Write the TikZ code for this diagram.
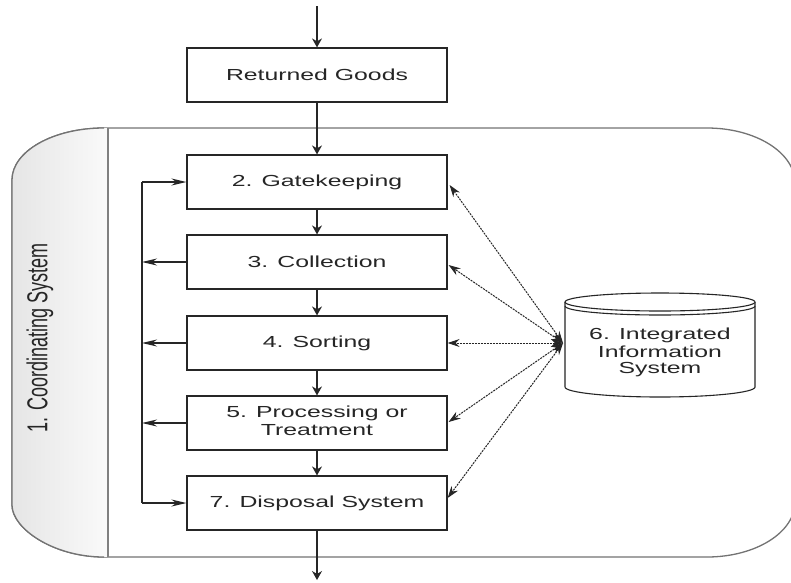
\documentclass[tikz,border=0pt]{standalone}
\usepackage{fontspec}
\setmainfont{Liberation Sans}
\usetikzlibrary{arrows.meta,calc}
\newcommand\wtxt[1]{\scalebox{1.55}[1]{#1}}
\newcommand\wtwo[2]{\scalebox{1.55}[1]{\begin{tabular}{@{}c@{}}#1\\#2\end{tabular}}}
\begin{document}
\begin{tikzpicture}[x=1pt,y=-1pt,
  box/.style={draw=black!85, line width=1.2pt, minimum width=260pt, minimum height=54pt,
    inner sep=0pt, text=black!85, font=\fontsize{16}{18}\selectfont},
  varr/.style={-{Stealth[length=9pt,width=10pt]}, line width=1.2pt, draw=black!85},
  harr/.style={-{Stealth[length=15pt,width=7pt]}, line width=1.2pt, draw=black!85},
  darr/.style={{Stealth[length=12pt,width=8pt]}-{Stealth[length=12pt,width=8pt]},
    dash pattern=on 2pt off 1pt, line width=1pt, draw=black!85},
  cont/.style={draw=black!55, line width=1.3pt}]
\path[use as bounding box, clip] (0,0) rectangle (791,582);
% container
\path[cont, fill=white] (104,128) -- (707,128)
  .. controls (755.6,128) and (795,152.6) .. (795,183)
  -- (795,502)
  .. controls (795,532.4) and (755.6,557) .. (707,557)
  -- (104,557)
  .. controls (53.2,557) and (12,528.3) .. (12,505)
  -- (12,180)
  .. controls (12,151.3) and (53.2,128) .. (104,128) -- cycle;
\fill[left color=black!10, right color=black!2] (108,128) -- (104,128)
  .. controls (53.2,128) and (12,151.3) .. (12,180) -- (12,505)
  .. controls (12,528.3) and (53.2,557) .. (104,557) -- (108,557) -- cycle;
\draw[cont] (104,128) .. controls (53.2,128) and (12,151.3) .. (12,180) -- (12,505)
  .. controls (12,528.3) and (53.2,557) .. (104,557);
\draw[draw=black!50, line width=1.6pt] (108,128) -- (108,557);
\node[rotate=90, text=black!85, font=\fontsize{18}{20}\selectfont] (coord) at (40,338)
  {\scalebox{1}[1.6]{1. Coordinating System}};
% boxes
\node[box] (ret)  at (317,75)  {\wtxt{Returned Goods}};
\node[box] (gate) at (317,182) {\wtxt{2. Gatekeeping}};
\node[box] (coll) at (317,262) {\wtxt{3. Collection}};
\node[box] (sort) at (317,343) {\wtxt{4. Sorting}};
\node[box] (proc) at (317,423) {\wtwo{5. Processing or}{Treatment}};
\node[box] (disp) at (317,503) {\wtxt{7. Disposal System}};
\coordinate (top) at (317,6);
\coordinate (bot) at (317,580);
% vertical flow
\draw[varr] (top) -- (ret);
\draw[varr] (ret) -- (gate);
\draw[varr] (gate) -- (coll);
\draw[varr] (coll) -- (sort);
\draw[varr] (sort) -- (proc);
\draw[varr] (proc) -- (disp);
\draw[varr] (disp) -- (bot);
% bus
\coordinate (busT) at (142,182);
\coordinate (busB) at (142,503);
\draw[line width=1.2pt, draw=black!85] (busT) -- (busB);
\draw[harr] (busT) -- (gate.west);
\draw[harr] (coll.west) -- (coll.west -| busT);
\draw[harr] (sort.west) -- (sort.west -| busT);
\draw[harr] (proc.west) -- (proc.west -| busT);
\draw[harr] (busB) -- (disp.west);
% cylinder
\draw[fill=white, draw=black!85, line width=1.1pt] (565,302) -- (565,387)
  .. controls (565,392.5) and (607.5,397) .. (660,397)
  .. controls (712.5,397) and (755,392.5) .. (755,387) -- (755,302);
\draw[fill=white, draw=black!85, line width=1.1pt] (660,302) ellipse [x radius=95, y radius=9];
\draw[draw=black!85, line width=1.1pt] (565,306)
  .. controls (565,311) and (607.5,315) .. (660,315)
  .. controls (712.5,315) and (755,311) .. (755,306);
\node[text=black!85, font=\fontsize{16}{18}\selectfont, align=center] (ias) at (660,352)
  {\wtwo{6. Integrated}{Information}\\[-2pt]\wtxt{System}};
\coordinate (iasL) at (563,343);
% dashed links
\draw[darr] (iasL) -- ($(gate.east)+(2,3)$);
\draw[darr] (iasL) -- ($(coll.east)+(1,3)$);
\draw[darr] (iasL) -- (sort.east);
\draw[darr] (iasL) -- ($(proc.east)+(1,-1)$);
\draw[darr] (iasL) -- ($(disp.east)+(0,-5)$);
\end{tikzpicture}
\end{document}
